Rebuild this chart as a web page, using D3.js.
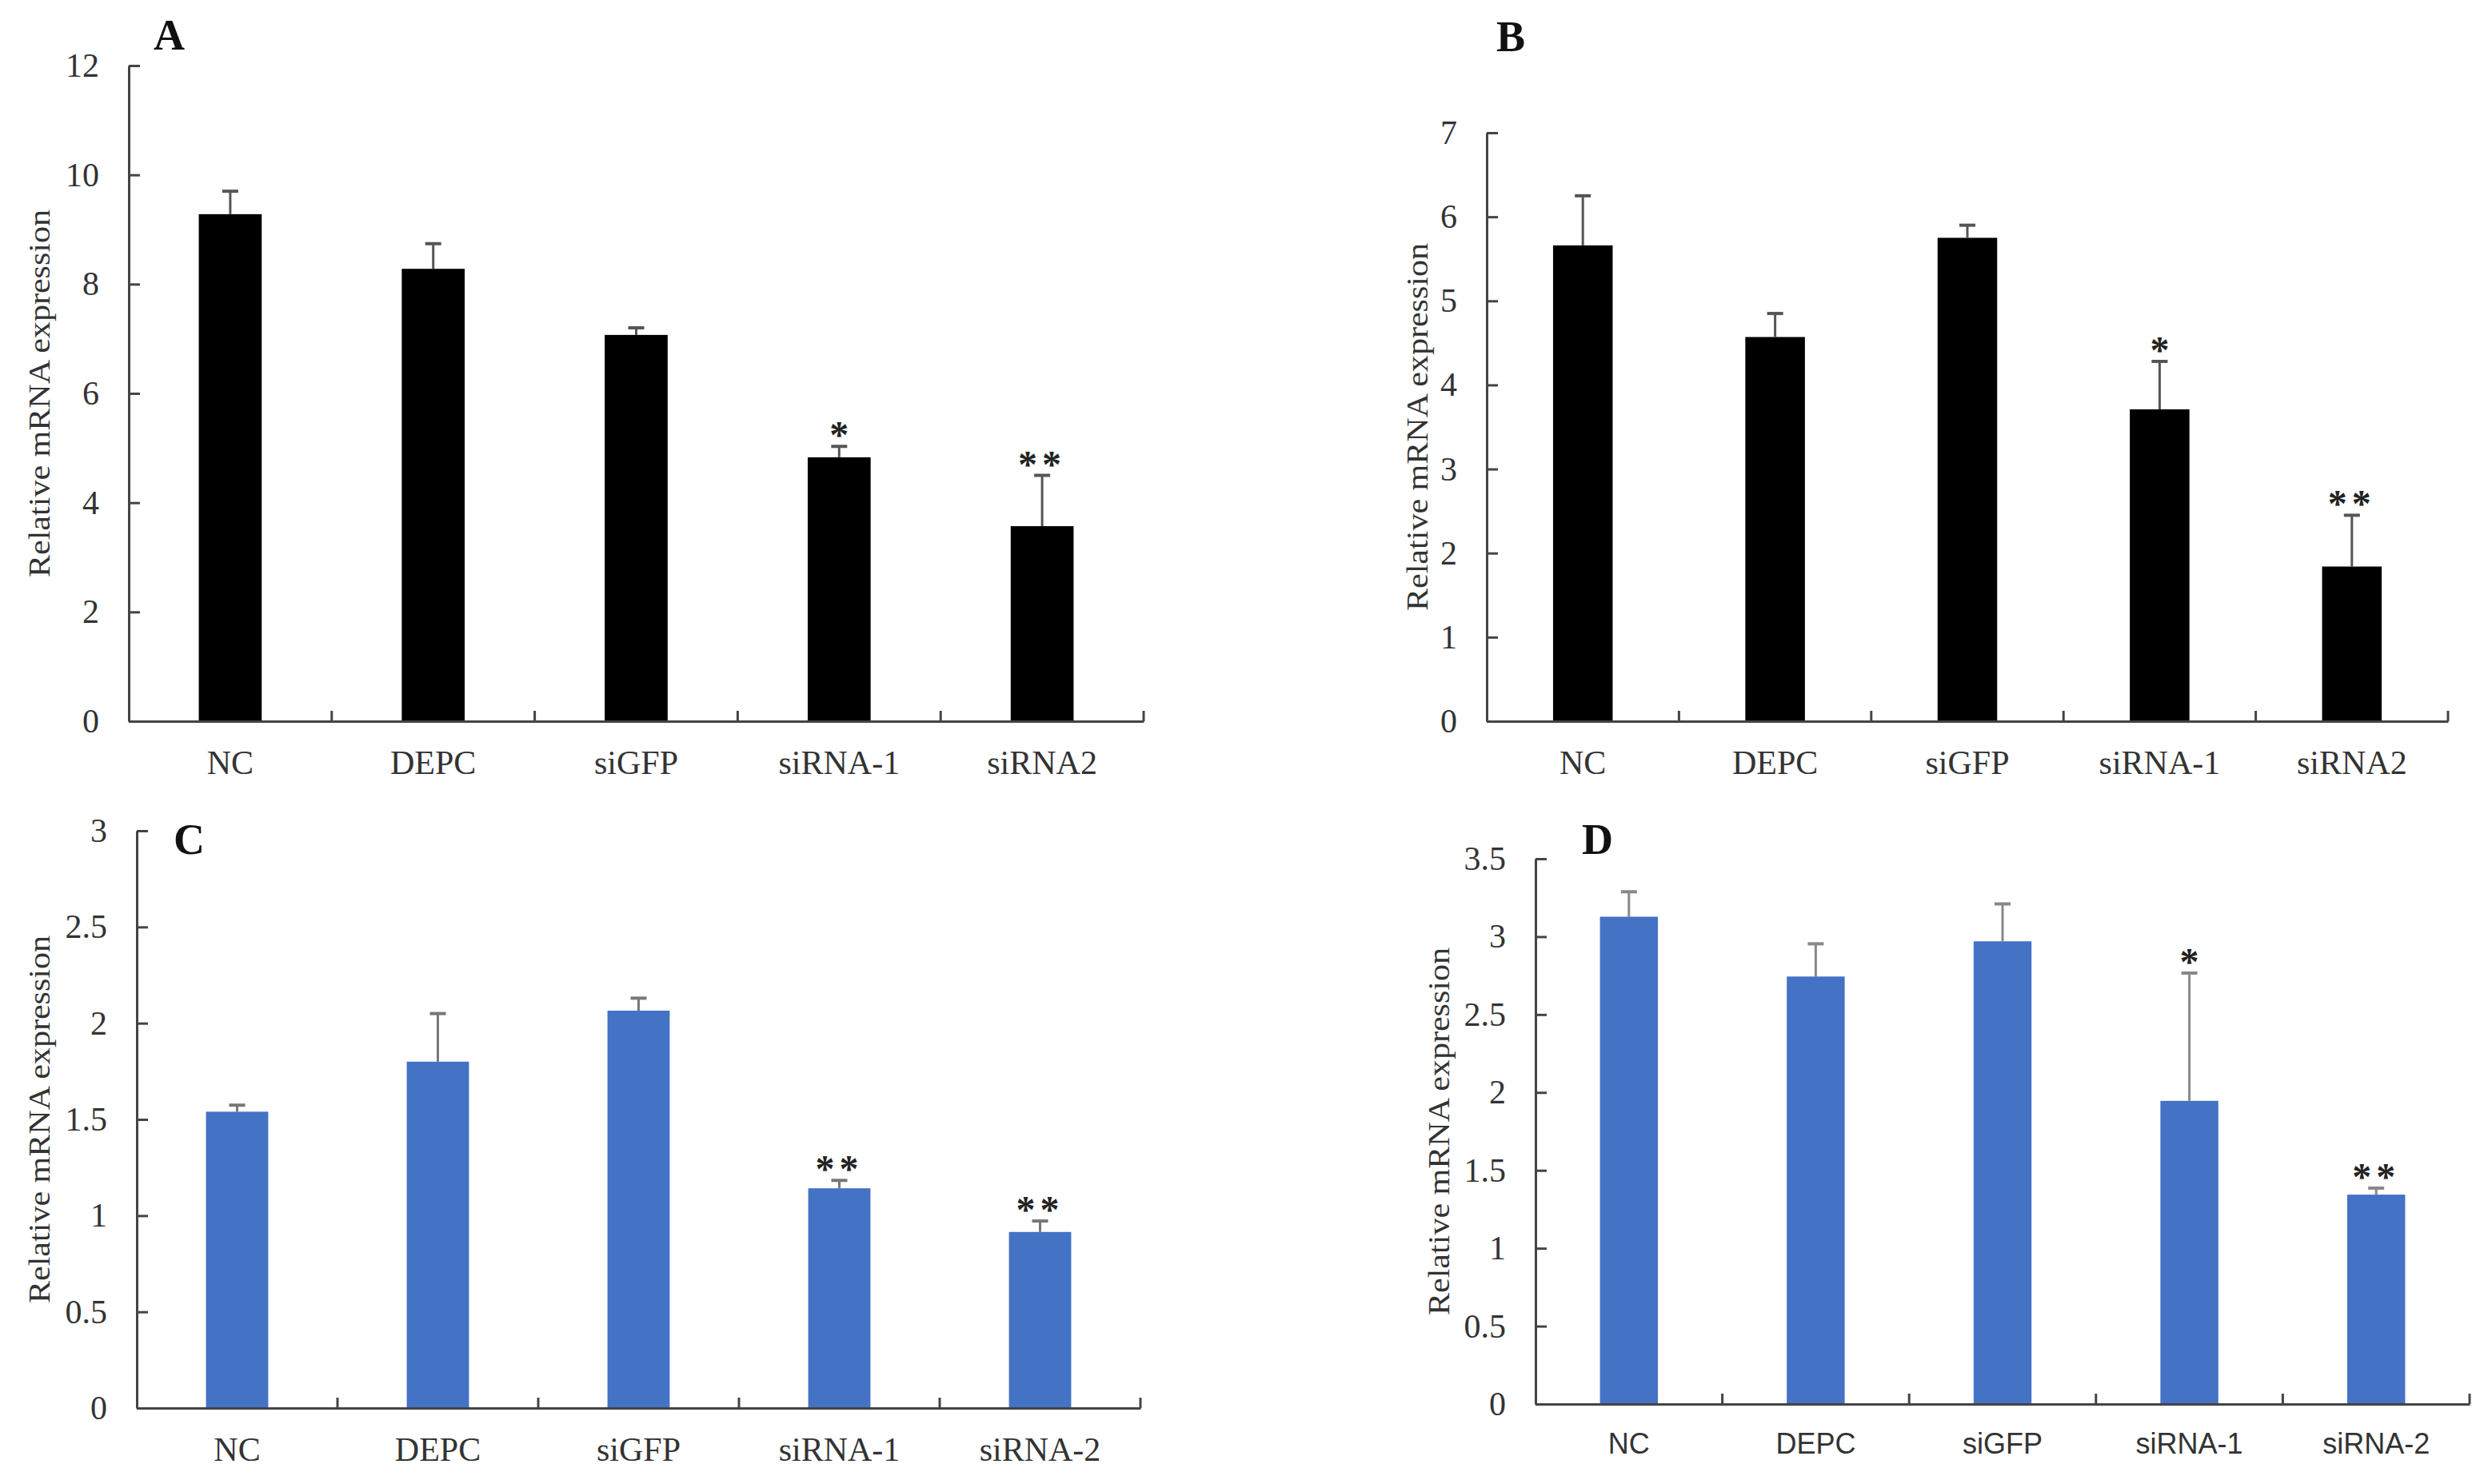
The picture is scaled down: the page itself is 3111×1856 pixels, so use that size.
<!DOCTYPE html>
<html>
<head>
<meta charset="utf-8">
<script src="https://cdn.jsdelivr.net/npm/d3@7"></script>
<style>
  body { margin: 0; background: #fff; }
  svg { display: block; }
</style>
</head>
<body>
<div id="vis"></div>
<script>
const FRAME_WIDTH = 3111;
const FRAME_HEIGHT = 1856;

// categories
const catsAB = ["NC", "DEPC", "siGFP", "siRNA-1", "siRNA2"];
const catsCD = ["NC", "DEPC", "siGFP", "siRNA-1", "siRNA-2"];

// means, error bars (upper only) and significance marks
const meanA = [9.28, 8.28, 7.07, 4.83, 3.57];
const errA  = [0.42, 0.46, 0.13, 0.20, 0.93];
const sigA  = ["", "", "", "*", "**"];

const meanB = [5.66, 4.57, 5.75, 3.71, 1.84];
const errB  = [0.59, 0.28, 0.15, 0.57, 0.61];
const sigB  = ["", "", "", "*", "**"];

const meanC = [1.54, 1.80, 2.065, 1.142, 0.915];
const errC  = [0.034, 0.25, 0.065, 0.041, 0.057];
const sigC  = ["", "", "", "**", "**"];

const meanD = [3.128, 2.744, 2.97, 1.946, 1.344];
const errD  = [0.16, 0.21, 0.24, 0.82, 0.042];
const sigD  = ["", "", "", "*", "**"];

// y tick labels
const ticksA = [0, 2, 4, 6, 8, 10, 12];
const ticksB = [0, 1, 2, 3, 4, 5, 6, 7];
const ticksC = [0, 0.5, 1, 1.5, 2, 2.5, 3];
const ticksD = [0, 0.5, 1, 1.5, 2, 2.5, 3, 3.5];

const Y_TITLE = "Relative  mRNA  expression";
const SERIF = "'Liberation Serif', 'Times New Roman', serif";
const SANS = "'Liberation Sans', Arial, sans-serif";
const AXIS_COLOR = "#444";

const FRAME = d3.select("#vis")
  .append("svg")
    .attr("width", FRAME_WIDTH)
    .attr("height", FRAME_HEIGHT)
    .style("background", "#fff");

// layout of each panel (pixels)
const panels = [
  {letter: "A", cats: catsAB, mean: meanA, err: errA, sig: sigA, ticks: ticksA,
   x0: 161, x1: 1430, yTop: 82, yBot: 902, titleX: 49,
   letterX: 192, letterY: 62, color: "#000", errColor: "#555", xFont: SERIF, xSize: 42},
  {letter: "B", cats: catsAB, mean: meanB, err: errB, sig: sigB, ticks: ticksB,
   x0: 1859, x1: 3061, yTop: 166, yBot: 902, titleX: 1772,
   letterX: 1871, letterY: 64, color: "#000", errColor: "#555", xFont: SERIF, xSize: 42},
  {letter: "C", cats: catsCD, mean: meanC, err: errC, sig: sigC, ticks: ticksC,
   x0: 171, x1: 1426, yTop: 1039, yBot: 1761, titleX: 49,
   letterX: 217, letterY: 1068, color: "#4472C4", errColor: "#777", xFont: SERIF, xSize: 42},
  {letter: "D", cats: catsCD, mean: meanD, err: errD, sig: sigD, ticks: ticksD,
   x0: 1920, x1: 3088, yTop: 1074, yBot: 1756, titleX: 1799,
   letterX: 1978, letterY: 1068, color: "#4472C4", errColor: "#888", xFont: SANS, xSize: 36}
];

panels.forEach(drawPanel);

function drawPanel(p) {
  const g = FRAME.append("g");

  const X_SCALE = d3.scaleBand()
    .domain(p.cats)
    .range([p.x0, p.x1])
    .padding(0);

  const Y_SCALE = d3.scaleLinear()
    .domain([0, d3.max(p.ticks)])
    .range([p.yBot, p.yTop]);

  const BAR_W = X_SCALE.bandwidth() * 0.31;
  const rows = p.cats.map((c, i) => ({cat: c, v: p.mean[i], e: p.err[i], s: p.sig[i]}));

  // bars
  g.selectAll(".bar")
    .data(rows)
    .enter()
    .append("rect")
      .attr("x", d => X_SCALE(d.cat) + (X_SCALE.bandwidth() - BAR_W) / 2)
      .attr("y", d => Y_SCALE(d.v))
      .attr("width", BAR_W)
      .attr("height", d => Y_SCALE(0) - Y_SCALE(d.v))
      .attr("fill", p.color);

  // error bars (upper half only)
  const cx = d => X_SCALE(d.cat) + X_SCALE.bandwidth() / 2;
  g.selectAll(".err")
    .data(rows)
    .enter()
    .append("line")
      .attr("x1", cx).attr("x2", cx)
      .attr("y1", d => Y_SCALE(d.v))
      .attr("y2", d => Y_SCALE(d.v + d.e))
      .attr("stroke", p.errColor)
      .attr("stroke-width", 3);
  g.selectAll(".cap")
    .data(rows)
    .enter()
    .append("line")
      .attr("x1", d => cx(d) - 10).attr("x2", d => cx(d) + 10)
      .attr("y1", d => Y_SCALE(d.v + d.e))
      .attr("y2", d => Y_SCALE(d.v + d.e))
      .attr("stroke", p.errColor)
      .attr("stroke-width", 4);

  // significance stars
  g.selectAll(".sig")
    .data(rows.filter(d => d.s))
    .enter()
    .append("text")
      .attr("x", cx)
      .attr("y", d => Y_SCALE(d.v + d.e) + 2)
      .attr("text-anchor", "middle")
      .attr("font-family", SERIF)
      .attr("font-weight", "bold")
      .attr("font-size", 48)
      .attr("letter-spacing", d => d.s.length > 1 ? 6 : 0)
      .attr("fill", "#222")
      .text(d => d.s);

  // y axis, ticks pointing inward
  const yAxis = g.append("g")
    .attr("transform", "translate(" + p.x0 + ",0)")
    .call(d3.axisLeft(Y_SCALE)
      .tickValues(p.ticks)
      .tickSizeInner(-14)
      .tickSizeOuter(0)
      .tickPadding(37)
      .tickFormat(d => String(d)));
  yAxis.select(".domain").attr("stroke", AXIS_COLOR).attr("stroke-width", 3);
  yAxis.selectAll(".tick line").attr("stroke", AXIS_COLOR).attr("stroke-width", 3);
  yAxis.selectAll(".tick text")
    .attr("font-family", SERIF)
    .attr("font-size", 42)
    .attr("fill", "#333");

  // x axis with category labels
  const xAxis = g.append("g")
    .attr("transform", "translate(0," + p.yBot + ")")
    .call(d3.axisBottom(X_SCALE).tickSize(0).tickPadding(36));
  xAxis.select(".domain").attr("stroke", AXIS_COLOR).attr("stroke-width", 3);
  xAxis.selectAll(".tick text")
    .attr("font-family", p.xFont)
    .attr("font-size", p.xSize)
    .attr("fill", "#333");

  // inward category boundary ticks
  g.selectAll(".bound")
    .data(p.cats)
    .enter()
    .append("line")
      .attr("x1", d => X_SCALE(d) + X_SCALE.bandwidth())
      .attr("x2", d => X_SCALE(d) + X_SCALE.bandwidth())
      .attr("y1", p.yBot)
      .attr("y2", p.yBot - 13)
      .attr("stroke", AXIS_COLOR)
      .attr("stroke-width", 3);

  // y title
  g.append("text")
    .attr("transform", "translate(" + p.titleX + "," + (p.yTop + p.yBot) / 2 + ") rotate(-90)")
    .attr("text-anchor", "middle")
    .attr("dominant-baseline", "central")
    .attr("font-family", SERIF)
    .attr("font-size", 38)
    .attr("textLength", 460)
    .attr("lengthAdjust", "spacingAndGlyphs")
    .attr("fill", "#333")
    .text(Y_TITLE);

  // panel letter
  g.append("text")
    .attr("x", p.letterX)
    .attr("y", p.letterY)
    .attr("font-family", SERIF)
    .attr("font-weight", "bold")
    .attr("font-size", 54)
    .attr("fill", "#111")
    .text(p.letter);
}
</script>
</body>
</html>
